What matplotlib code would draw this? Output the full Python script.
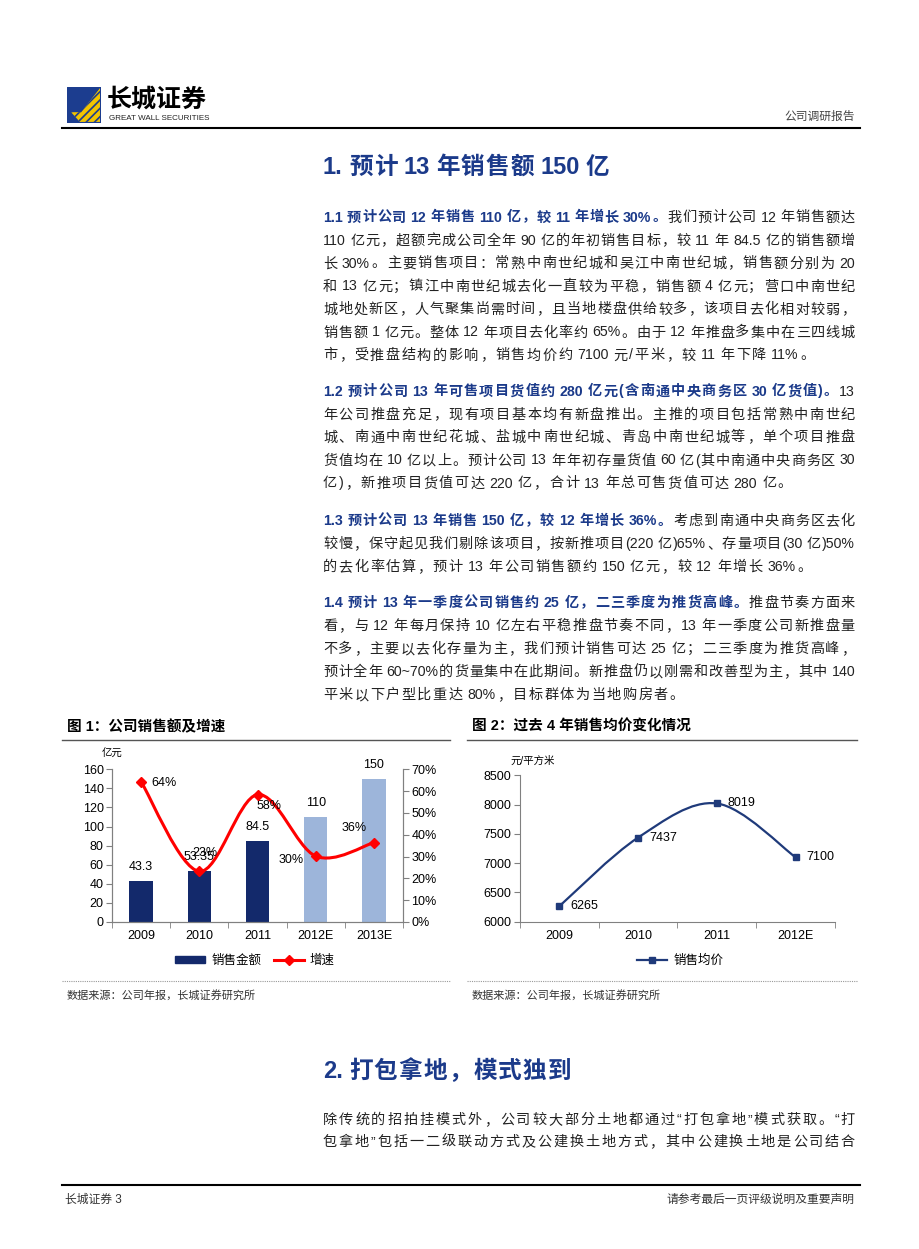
import re
import numpy as np
import matplotlib
matplotlib.use('Agg')
import matplotlib.pyplot as plt
from matplotlib.path import Path
from matplotlib.patches import PathPatch, Rectangle, Polygon, Patch
from matplotlib.lines import Line2D

plt.rcParams['font.family'] = ['Liberation Sans', 'Noto Sans CJK SC', 'DejaVu Sans']
plt.rcParams['hatch.linewidth'] = 1.2

# ---- data ----
years1 = ['2009', '2010', '2011', '2012E', '2013E']
sales = [43.3, 53.35, 84.5, 110, 150]          # 亿元
growth = [64.3, 23.2, 58.4, 30.2, 36.4]         # %
years2 = ['2009', '2010', '2011', '2012E']
price = [6265, 7437, 8019, 7100]                # 元/平方米

NAVY = '#13296b'
LIGHT = '#9db5da'
RED = '#ff0000'
HEAD = '#1b3a8a'
INK = '#222222'

W, H = 920, 1249
fig = plt.figure(figsize=(W / 100, H / 100), dpi=100)
renderer = fig.canvas.get_renderer()


def fx(x):
    return x / W


def fy(y):
    return 1 - y / H


def hline(y, x0, x1, color='k', lw=1.0, ls='-'):
    fig.add_artist(Line2D([fx(x0), fx(x1)], [fy(y), fy(y)], transform=fig.transFigure,
                          color=color, lw=lw, ls=ls))


def put_line(y, parts, x0=323, x1=855, justify=True, size=10.2, gap=1.5, space=3.5):
    '''draw one line of mixed CJK / latin text, justified between x0 and x1'''
    em = size * 100 / 72
    items = []
    for txt, bold in parts:
        for m in re.finditer(r'[\x21-\x7e]+| |.', txt):
            tok = m.group()
            if tok == ' ':
                items.append((None, space))
                continue
            t = fig.text(0, fy(y), tok, fontsize=size, color=HEAD if bold else INK,
                         fontweight='bold' if bold else 'normal', ha='left', va='baseline')
            if ord(tok[0]) >= 0x2e80:
                w = em
            else:
                w = t.get_window_extent(renderer).width
            items.append((t, w))
    n = sum(1 for t, _ in items if t is not None)
    total = sum(w for _, w in items)
    if justify and n > 1:
        gap = (x1 - x0 - total) / (n - 1)
    x = x0
    for t, w in items:
        if t is None:
            x += w
            continue
        t.set_x(fx(x))
        x += w + gap


def put_para(y0, head, rest, lines, step=23, base=5):
    '''bold lead-in sentence, then the remaining lines; last line left ragged'''
    put_line(y0 + base, [(head, True), (rest, False)])
    for i, s in enumerate(lines):
        put_line(y0 + step * (i + 1) + base, [(s, False)], justify=i < len(lines) - 1)


def smooth_path(xs, ys):
    '''bezier path through the points, like a smoothed excel line'''
    n = len(xs)
    verts = [(xs[0], ys[0])]
    codes = [Path.MOVETO]
    for i in range(n - 1):
        a = max(i - 1, 0)
        d = min(i + 2, n - 1)
        c1 = (xs[i] + (xs[i + 1] - xs[a]) / 6, ys[i] + (ys[i + 1] - ys[a]) / 6)
        c2 = (xs[i + 1] - (xs[d] - xs[i]) / 6, ys[i + 1] - (ys[d] - ys[i]) / 6)
        verts += [c1, c2, (xs[i + 1], ys[i + 1])]
        codes += [Path.CURVE4] * 3
    return Path(verts, codes)


# ---- page header ----
ax_logo = fig.add_axes([fx(67), fy(123), 34 / W, 36 / H])
ax_logo.axis('off')
ax_logo.set_xlim(0, 1)
ax_logo.set_ylim(0, 1)
ax_logo.add_patch(Rectangle((0, 0), 1, 1, color='#1c3d8f'))
ax_logo.add_patch(Polygon([(0.97, 0.97), (0.97, 0.03), (0.38, 0.03), (0.12, 0.3), (0.42, 0.3)],
                          facecolor='#f2c400', edgecolor='#1c3d8f', lw=0, hatch='////'))
fig.text(fx(107), fy(100), '长城证券', fontsize=18, fontweight='bold', color='k', va='center')
fig.text(fx(109), fy(119), 'GREAT WALL SECURITIES', fontsize=5.8, color='#222', va='center')
fig.text(fx(855), fy(117), '公司调研报告', fontsize=8.5, color='#444', ha='right', va='center')
hline(128, 62, 860, lw=1.5)

# ---- section 1 ----
put_line(174, [('1. 预计 13 年销售额 150 亿', True)], justify=False, size=17, gap=1.2, space=5)

put_para(216.5, '1.1 预计公司 12 年销售 110 亿，较 11 年增长 30%。', '我们预计公司 12 年销售额达',
         ['110 亿元，超额完成公司全年 90 亿的年初销售目标，较 11 年 84.5 亿的销售额增',
          '长 30%。主要销售项目：常熟中南世纪城和吴江中南世纪城，销售额分别为 20',
          '和 13 亿元；镇江中南世纪城去化一直较为平稳，销售额 4 亿元；营口中南世纪',
          '城地处新区，人气聚集尚需时间，且当地楼盘供给较多，该项目去化相对较弱，',
          '销售额 1 亿元。整体 12 年项目去化率约 65%。由于 12 年推盘多集中在三四线城',
          '市，受推盘结构的影响，销售均价约 7100 元/平米，较 11 年下降 11%。'])

put_para(390.5, '1.2 预计公司 13 年可售项目货值约 280 亿元(含南通中央商务区 30 亿货值)。', '13',
         ['年公司推盘充足，现有项目基本均有新盘推出。主推的项目包括常熟中南世纪',
          '城、南通中南世纪花城、盐城中南世纪城、青岛中南世纪城等，单个项目推盘',
          '货值均在 10 亿以上。预计公司 13 年年初存量货值 60 亿(其中南通中央商务区 30',
          '亿)，新推项目货值可达 220 亿，合计 13 年总可售货值可达 280 亿。'])

put_para(520, '1.3 预计公司 13 年销售 150 亿，较 12 年增长 36%。', '考虑到南通中央商务区去化',
         ['较慢，保守起见我们剔除该项目，按新推项目(220 亿)65%、存量项目(30 亿)50%',
          '的去化率估算，预计 13 年公司销售额约 150 亿元，较 12 年增长 36%。'])

put_para(602, '1.4 预计 13 年一季度公司销售约 25 亿，二三季度为推货高峰。', '推盘节奏方面来',
         ['看，与 12 年每月保持 10 亿左右平稳推盘节奏不同，13 年一季度公司新推盘量',
          '不多，主要以去化存量为主，我们预计销售可达 25 亿；二三季度为推货高峰，',
          '预计全年 60~70%的货量集中在此期间。新推盘仍以刚需和改善型为主，其中 140',
          '平米以下户型比重达 80%，目标群体为当地购房者。'])

# ---- chart frames ----
for x0, x1, title in [(62, 450, '图 1：公司销售额及增速'), (467, 857, '图 2：过去 4 年销售均价变化情况')]:
    fig.text(fx(x0 + 5), fy(727), title, fontsize=10.5, fontweight='bold', color='k', va='center')
    hline(740, x0, x1, color='#555', lw=1.0)
    hline(981, x0, x1, color='#999', lw=0.8, ls=(0, (1, 1)))
    fig.text(fx(x0 + 5), fy(995), '数据来源：公司年报，长城证券研究所', fontsize=8, color='#333', va='center')

# ---- chart 1: sales bars + growth line ----
ax1 = fig.add_axes([fx(112), fy(922), (403 - 112) / W, (922 - 769.3) / H])
x1 = np.arange(len(years1))
bar_colors = [NAVY, NAVY, NAVY, LIGHT, LIGHT]
ax1.bar(x1, sales, width=0.4, color=bar_colors, zorder=2)
ax1.set_xlim(-0.5, len(years1) - 0.5)
ax1.set_ylim(0, 160)
ax1.set_yticks(range(0, 161, 20))
ax1.set_xticks(x1, years1)
ax1.set_xticks(np.arange(-0.5, len(years1), 1), minor=True)
for i, v in enumerate(sales):
    ax1.annotate(f'{v:g}', (x1[i], v), xytext=(0, 14), textcoords='offset pixels',
                 ha='center', va='center', fontsize=9)

ax1b = ax1.twinx()
ax1b.set_ylim(0, 70)
ax1b.set_yticks(range(0, 71, 10))
ax1b.set_yticklabels([f'{v}%' for v in range(0, 71, 10)])
ax1b.add_patch(PathPatch(smooth_path(x1, growth), fill=False, edgecolor=RED, lw=2.2, zorder=3))
ax1b.plot(x1, growth, 'D', color=RED, ms=5, zorder=4)
g_off = [(23, -1), (6, 18), (12, -11), (-25, -4), (-20, 15)]
for i, v in enumerate(growth):
    ax1b.annotate(f'{v:.0f}%', (x1[i], v), xytext=g_off[i], textcoords='offset pixels',
                  ha='center', va='center', fontsize=9)

for a in (ax1, ax1b):
    a.spines['top'].set_visible(False)
    for s in ('left', 'right', 'bottom'):
        a.spines[s].set_color('#808080')
    a.tick_params(axis='y', length=4, color='#808080', labelsize=9, pad=2)
    a.tick_params(axis='x', which='major', length=0, labelsize=9, pad=6)
    a.tick_params(axis='x', which='minor', length=4, color='#808080')
ax1.text(0.0, 1.1, '亿元', transform=ax1.transAxes, fontsize=7.5, ha='center', va='center')

fig.legend([Patch(color=NAVY), Line2D([], [], color=RED, lw=2.2, marker='D', ms=5)],
           ['销售金额', '增速'], loc='center', bbox_to_anchor=(fx(255), fy(961)), ncol=2,
           frameon=False, fontsize=9, handlelength=2.4, handleheight=0.5,
           columnspacing=1.0, handletextpad=0.5)

# ---- chart 2: average price ----
ax2 = fig.add_axes([fx(520), fy(921.7), (835 - 520) / W, (921.7 - 775.3) / H])
x2 = np.arange(len(years2))
ax2.add_patch(PathPatch(smooth_path(x2, price), fill=False, edgecolor='#1f3a7a', lw=1.6, zorder=3))
ax2.plot(x2, price, 's', color='#1f3a7a', ms=4, zorder=4)
for i, v in enumerate(price):
    ax2.annotate(f'{v}', (x2[i], v), xytext=(11, 0), textcoords='offset pixels',
                 ha='left', va='center', fontsize=9)
ax2.set_xlim(-0.5, len(years2) - 0.5)
ax2.set_ylim(6000, 8500)
ax2.set_yticks(range(6000, 8501, 500))
ax2.set_xticks(x2, years2)
ax2.set_xticks(np.arange(-0.5, len(years2), 1), minor=True)
ax2.spines['top'].set_visible(False)
ax2.spines['right'].set_visible(False)
for s in ('left', 'bottom'):
    ax2.spines[s].set_color('#808080')
ax2.tick_params(axis='y', length=4, color='#808080', labelsize=9, pad=2)
ax2.tick_params(axis='x', which='major', length=0, labelsize=9, pad=6)
ax2.tick_params(axis='x', which='minor', length=4, color='#808080')
ax2.text(0.04, 1.1, '元/平方米', transform=ax2.transAxes, fontsize=7.5, ha='center', va='center')

fig.legend([Line2D([], [], color='#1f3a7a', lw=1.6, marker='s', ms=4)], ['销售均价'],
           loc='center', bbox_to_anchor=(fx(680), fy(961)), frameon=False, fontsize=9,
           handlelength=2.4, handletextpad=0.5)

# ---- section 2 ----
put_line(1078, [('2. 打包拿地，模式独到', True)], justify=False, size=17, gap=1.2, space=5)
p5 = ['除传统的招拍挂模式外，公司较大部分土地都通过“打包拿地”模式获取。“打',
      '包拿地”包括一二级联动方式及公建换土地方式，其中公建换土地是公司结合']
for i, s in enumerate(p5):
    put_line(1119 + 22 * i + 5, [(s, False)])

# ---- footer ----
hline(1185, 62, 860, lw=1.5)
fig.text(fx(65), fy(1200), '长城证券 3', fontsize=8.5, color='#333', va='center')
fig.text(fx(855), fy(1200), '请参考最后一页评级说明及重要声明', fontsize=8.5, color='#333',
         ha='right', va='center')

fig.savefig('out.png', dpi=100, facecolor='white')
